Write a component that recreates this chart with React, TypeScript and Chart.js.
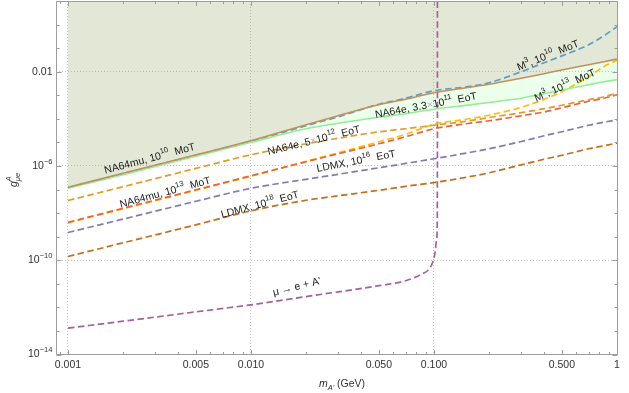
import React, { useEffect, useRef } from "react";
import { Chart, registerables } from "chart.js";

Chart.register(...registerables);

const FONT = '"Liberation Sans", Arial, Helvetica, sans-serif';

// dark photon mass m_A' (GeV)
const masses = [0.001, 0.002, 0.005, 0.01, 0.02, 0.03, 0.05, 0.07, 0.1, 0.15, 0.2, 0.3, 0.4, 0.5, 0.7, 0.85, 1];

// existing bound (brown, solid)
const existingBound = [1.25e-7, 4.9e-7, 2.99e-6, 1.175e-5, 5.61e-5, 1.355e-4, 3.97e-4, 6.79e-4, 1.28e-3, 2.09e-3, 2.94e-3, 5.3e-3, 8.22e-3, 1.19e-2, 1.98e-2, 2.66e-2, 3.46e-2];
// NA64e, 3.3x10^11 EoT (light green, solid)
const na64e33e11 = [1.13e-7, 4.23e-7, 2.58e-6, 1.01e-5, 3.8e-5, 6.5e-5, 1.17e-4, 1.65e-4, 2.56e-4, 3.74e-4, 4.97e-4, 7.5e-4, 1.16e-3, 1.67e-3, 2.81e-3, 3.76e-3, 4.57e-3];
// NA64mu / M^3, 10^10 MoT (blue, dashed)
const mot1e10 = [1.19e-7, 4.67e-7, 2.84e-6, 1.12e-5, 5.09e-5, 1.23e-4, 4.17e-4, 7.5e-4, 1.56e-3, 2.26e-3, 3.41e-3, 1.0e-2, 2.41e-2, 4.7e-2, 0.14, 0.338, 0.82];
// NA64e, 5x10^12 EoT (orange, dashed)
const na64e5e12 = [3.43e-8, 1.31e-7, 7.91e-7, 2.99e-6, 8.77e-6, 1.5e-5, 2.83e-5, 3.8e-5, 5.35e-5, 7.91e-5, 1.135e-4, 1.82e-4, 2.69e-4, 3.78e-4, 6.47e-4, 8.67e-4, 1.22e-3];
// NA64mu, 10^13 MoT (red, dashed)
const na64mu1e13 = [4.06e-9, 1.6e-8, 9.75e-8, 3.84e-7, 1.51e-6, 3.3e-6, 8.77e-6, 1.74e-5, 3.8e-5, 6.19e-5, 8.3e-5, 1.355e-4, 1.96e-4, 2.96e-4, 5.58e-4, 7.5e-4, 1.05e-3];
// M^3, 10^13 MoT (yellow, dashed)
const m3e13 = [3.87e-9, 1.52e-8, 9.29e-8, 3.66e-7, 1.58e-6, 3.64e-6, 1.07e-5, 2.22e-5, 5.9e-5, 9.62e-5, 1.42e-4, 3.11e-4, 6.79e-4, 1.42e-3, 6.14e-3, 1.68e-2, 3.08e-2];
// LDMX, 10^16 EoT (purple, dashed)
const ldmx1e16 = [1.5e-9, 5.56e-9, 3.17e-8, 1.13e-7, 2.72e-7, 4.45e-7, 8.39e-7, 1.28e-6, 2.02e-6, 3.53e-6, 5.37e-6, 1.09e-5, 1.91e-5, 2.83e-5, 5.35e-5, 7.18e-5, 9.16e-5];
// LDMX, 10^18 EoT (dark orange, dashed)
const ldmx1e18 = [1.44e-10, 5.48e-10, 3.18e-9, 1.25e-8, 3.5e-8, 5.43e-8, 9.29e-8, 1.37e-7, 1.97e-7, 3.31e-7, 5.14e-7, 1.12e-6, 1.93e-6, 2.84e-6, 5.37e-6, 7.21e-6, 9.38e-6];

// mu -> e + A' (magenta, dashed)
const muDecayMasses = [0.001, 0.002, 0.005, 0.01, 0.02, 0.03, 0.05, 0.07, 0.085, 0.095, 0.0987, 0.1013, 0.1032, 0.1042, 0.1044, 0.1044];
const muDecayValues = [1.31e-13, 2.59e-13, 6.44e-13, 1.28e-12, 2.88e-12, 4.55e-12, 8.3e-12, 1.35e-11, 2.5e-11, 4.62e-11, 8.81e-11, 2.06e-10, 7.35e-10, 3.87e-9, 1e-6, 10];

// axes
const xMin = 0.00086;
const xMax = 1;
const yMin = 1e-14;
const yMax = 10;
const xTickValues = [0.001, 0.005, 0.01, 0.05, 0.1, 0.5, 1];
const xTickLabels = ["0.001", "0.005", "0.010", "0.050", "0.100", "0.500", "1"];
const yTickValues = [1e-14, 1e-10, 1e-6, 0.01];
const yTickLabels = [["10", "\u221214"], ["10", "\u221210"], ["10", "\u22126"], ["0.01", ""]];
const xGridValues = [0.001, 0.01, 0.1, 1];
const yGridValues = [1e-10, 1e-6, 1e-2];

type Part = { t: string; s?: "sup" | "sub"; grey?: boolean; it?: boolean };

const curveLabels: { parts: Part[]; m: number; g: number; angle: number }[] = [
  { parts: [{ t: "NA64mu, 10" }, { t: "10", s: "sup" }, { t: "  MoT" }], m: 0.0028, g: 2.0e-6, angle: 15 },
  { parts: [{ t: "NA64mu, 10" }, { t: "13", s: "sup" }, { t: "  MoT" }], m: 0.0034, g: 7.3e-8, angle: 15 },
  { parts: [{ t: "NA64e, 5" }, { t: "\u00d7", grey: true }, { t: "10" }, { t: "12", s: "sup" }, { t: "  EoT" }], m: 0.0221, g: 1.17e-5, angle: 14 },
  { parts: [{ t: "LDMX, 10" }, { t: "16", s: "sup" }, { t: "  EoT" }], m: 0.0375, g: 1.55e-6, angle: 11 },
  { parts: [{ t: "LDMX, 10" }, { t: "18", s: "sup" }, { t: "  EoT" }], m: 0.0112, g: 2.25e-8, angle: 15 },
  { parts: [{ t: "NA64e, 3.3" }, { t: "\u00d7", grey: true }, { t: "10" }, { t: "11", s: "sup" }, { t: "  EoT" }], m: 0.0904, g: 3.6e-4, angle: 10.5 },
  { parts: [{ t: "M" }, { t: "3", s: "sup" }, { t: ", 10" }, { t: "10", s: "sup" }, { t: "  MoT" }], m: 0.42, g: 0.0478, angle: 22 },
  { parts: [{ t: "M" }, { t: "3", s: "sup" }, { t: ", 10" }, { t: "13", s: "sup" }, { t: "  MoT" }], m: 0.52, g: 2.55e-3, angle: 24 },
  { parts: [{ t: "\u03bc \u2192 e + A'" }], m: 0.0178, g: 7.4e-12, angle: 14 },
];

function fontFor(p: Part, size: number) {
  const sz = p.s ? size * 0.72 : size;
  return `${p.it ? "italic " : ""}${sz}px ${FONT}`;
}

function partsWidth(ctx: CanvasRenderingContext2D, parts: Part[], size: number) {
  let w = 0;
  for (const p of parts) {
    ctx.font = fontFor(p, size);
    w += ctx.measureText(p.t).width;
  }
  return w;
}

function drawParts(ctx: CanvasRenderingContext2D, parts: Part[], x0: number, y: number, size: number, color: string, align: "left" | "center" | "right") {
  const total = partsWidth(ctx, parts, size);
  let x = align === "center" ? x0 - total / 2 : align === "right" ? x0 - total : x0;
  ctx.textAlign = "left";
  ctx.textBaseline = "middle";
  for (const p of parts) {
    ctx.font = fontFor(p, size);
    ctx.fillStyle = p.grey ? "#b4b4b4" : color;
    const dy = p.s === "sup" ? -size * 0.4 : p.s === "sub" ? size * 0.32 : 0;
    ctx.fillText(p.t, x, y + dy);
    x += ctx.measureText(p.t).width;
  }
}

const overlay = {
  id: "overlay",
  afterDraw(chart: any) {
    const { ctx, chartArea: a, scales } = chart;
    const xs = scales.x;
    const ys = scales.y;
    const L = Math.floor(a.left) + 0.5;
    const R = Math.floor(a.right) + 0.5;
    const T = Math.floor(a.top) + 0.5;
    const B = Math.floor(a.bottom) + 0.5;
    ctx.save();
    // frame
    ctx.strokeStyle = "#9c9c9c";
    ctx.lineWidth = 1;
    ctx.beginPath();
    ctx.moveTo(L, T);
    ctx.lineTo(R, T);
    ctx.lineTo(R, B);
    ctx.lineTo(L, B);
    ctx.closePath();
    ctx.stroke();

    // x ticks (bottom and top, inward)
    ctx.beginPath();
    for (let k = -4; k <= 0; k++) {
      for (let j = 1; j <= 9; j++) {
        const v = j * Math.pow(10, k);
        if (v < xMin * 0.999 || v > xMax * 1.001) continue;
        const isMajor = xTickValues.some((t) => Math.abs(t - v) / t < 1e-6);
        const len = isMajor ? 4.5 : 2.5;
        const px = Math.round(xs.getPixelForValue(v)) + 0.5;
        ctx.moveTo(px, B);
        ctx.lineTo(px, B - len);
        ctx.moveTo(px, T);
        ctx.lineTo(px, T + len);
      }
    }
    // y ticks (left and right, inward) every decade
    for (let e = -14; e <= 1; e++) {
      const v = Math.pow(10, e);
      const isMajor = yTickValues.some((t) => Math.abs(Math.log10(t) - e) < 1e-6);
      const len = isMajor ? 5 : 3;
      const py = Math.round(ys.getPixelForValue(v)) + 0.5;
      ctx.moveTo(L, py);
      ctx.lineTo(L + len, py);
      ctx.moveTo(R, py);
      ctx.lineTo(R - len, py);
    }
    ctx.stroke();

    const size = 10.5;
    const tickColor = "#333333";
    // x tick labels
    xTickValues.forEach((v, i) => {
      const px = xs.getPixelForValue(v);
      drawParts(ctx, [{ t: xTickLabels[i] }], px, a.bottom + 11, size, tickColor, "center");
    });
    // y tick labels
    yTickValues.forEach((v, i) => {
      const py = ys.getPixelForValue(v);
      const [base, exp] = yTickLabels[i];
      const parts: Part[] = exp ? [{ t: base }, { t: exp, s: "sup" }] : [{ t: base }];
      drawParts(ctx, parts, a.left - 3.5, py, size, tickColor, "right");
    });

    // x axis title
    drawParts(
      ctx,
      [{ t: "m", it: true }, { t: "A'", s: "sub", it: true }, { t: " (GeV)" }],
      342,
      a.bottom + 30,
      size,
      tickColor,
      "center"
    );

    // y axis title (rotated, stacked super/subscript)
    ctx.save();
    ctx.translate(14, 180);
    ctx.rotate(-Math.PI / 2);
    ctx.textBaseline = "middle";
    ctx.textAlign = "left";
    ctx.font = `italic ${size}px ${FONT}`;
    const wg = ctx.measureText("g").width;
    ctx.font = `italic ${size * 0.72}px ${FONT}`;
    const wA = ctx.measureText("A").width;
    const wS = ctx.measureText("\u03bce").width;
    const tot = wg + Math.max(wA, wS);
    const x0 = -tot / 2;
    ctx.fillStyle = tickColor;
    ctx.font = `italic ${size}px ${FONT}`;
    ctx.fillText("g", x0, 0);
    ctx.font = `italic ${size * 0.72}px ${FONT}`;
    ctx.fillText("A", x0 + wg, -size * 0.45);
    ctx.fillText("\u03bce", x0 + wg, size * 0.38);
    ctx.restore();

    // curve labels
    for (const lab of curveLabels) {
      const px = xs.getPixelForValue(lab.m);
      const py = ys.getPixelForValue(lab.g);
      ctx.save();
      ctx.translate(px, py);
      ctx.rotate((-lab.angle * Math.PI) / 180);
      drawParts(ctx, lab.parts, 0, 0, size, "#1a1a1a", "center");
      ctx.restore();
    }
    ctx.restore();
  },
};

function pts(xv: number[], yv: number[]) {
  return xv.map((x, i) => ({ x, y: yv[i] }));
}

const DASH = [6.5, 3.5];

export default function App() {
  const ref = useRef<HTMLCanvasElement | null>(null);

  useEffect(() => {
    document.body.style.margin = "0";
    const canvas = ref.current;
    if (!canvas) return;
    const dashed = (label: string, vals: number[], color: string, xv: number[] = masses) => ({
      label,
      data: pts(xv, vals),
      borderColor: color,
      borderWidth: 1.7,
      borderDash: DASH,
      pointRadius: 0,
      fill: false,
      cubicInterpolationMode: "monotone" as const,
    });
    const chart = new Chart(canvas, {
      type: "line",
      data: {
        datasets: [
          {
            label: "Existing bound",
            data: pts(masses, existingBound),
            borderColor: "#c0915e",
            borderWidth: 1.6,
            pointRadius: 0,
            fill: "end",
            backgroundColor: "rgba(143,160,90,0.25)",
            cubicInterpolationMode: "monotone",
          },
          {
            label: "NA64e, 3.3e11 EoT",
            data: pts(masses, na64e33e11),
            borderColor: "#94ee94",
            borderWidth: 1.6,
            pointRadius: 0,
            fill: "-1",
            backgroundColor: "rgba(120,255,120,0.15)",
            cubicInterpolationMode: "monotone",
          },
          dashed("10^10 MoT", mot1e10, "#5D9EC7"),
          dashed("NA64e, 5e12 EoT", na64e5e12, "#E19C24"),
          dashed("NA64mu, 1e13 MoT", na64mu1e13, "#EB6235"),
          dashed("M3, 1e13 MoT", m3e13, "#FFBF00"),
          dashed("LDMX, 1e16 EoT", ldmx1e16, "#8778B3"),
          dashed("LDMX, 1e18 EoT", ldmx1e18, "#C56E1A"),
          dashed("mu -> e + A'", muDecayValues, "#A5609D", muDecayMasses),
        ],
      },
      options: {
        responsive: false,
        animation: false,
        devicePixelRatio: 1,
        layout: { padding: { top: 1, right: 12, left: 0, bottom: 0 } },
        plugins: {
          legend: { display: false },
          tooltip: { enabled: false },
          filler: { drawTime: "beforeDatasetsDraw" },
        },
        scales: {
          x: {
            type: "logarithmic",
            min: xMin,
            max: xMax,
            afterBuildTicks: (s: any) => {
              s.ticks = xGridValues.map((v) => ({ value: v }));
            },
            afterFit: (s: any) => {
              s.height = 38.5;
            },
            ticks: { display: false },
            grid: { color: "#c4c4c4", lineWidth: 1, drawTicks: false },
            border: { display: false, dash: [1, 2] },
          },
          y: {
            type: "logarithmic",
            min: yMin,
            max: yMax,
            afterBuildTicks: (s: any) => {
              s.ticks = yGridValues.map((v) => ({ value: v }));
            },
            afterFit: (s: any) => {
              s.width = 56;
            },
            ticks: { display: false },
            grid: { color: "#c4c4c4", lineWidth: 1, drawTicks: false },
            border: { display: false, dash: [1, 2] },
          },
        },
      },
      plugins: [overlay],
    } as any);
    return () => chart.destroy();
  }, []);

  return <canvas ref={ref} width={629} height={393} style={{ display: "block" }} />;
}
